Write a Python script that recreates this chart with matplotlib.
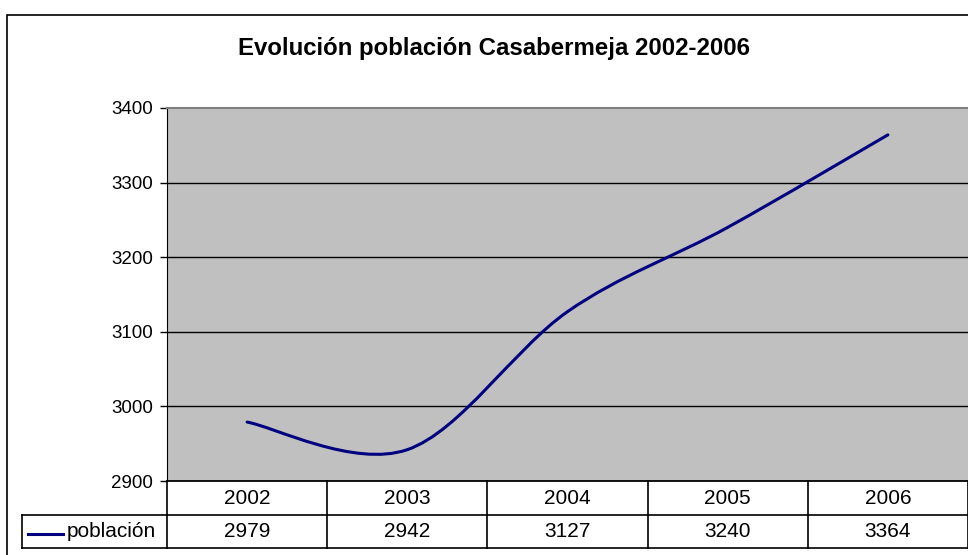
import numpy as np
import matplotlib
matplotlib.use("Agg")
import matplotlib.pyplot as plt
from matplotlib.path import Path
from matplotlib.patches import PathPatch, Rectangle
from matplotlib.lines import Line2D
import matplotlib.transforms as mtransforms

# ---- data ----
years = ["2002", "2003", "2004", "2005", "2006"]
poblacion = [2979, 2942, 3127, 3240, 3364]
series_name = "población"
title = "Evolución población Casabermeja 2002-2006"
y_ticks = [2900, 3000, 3100, 3200, 3300, 3400]

plt.rcParams['font.family'] = ['Liberation Sans', 'DejaVu Sans']

W, H = 968, 555
fig = plt.figure(figsize=(W / 100, H / 100), dpi=100)
fig.patch.set_facecolor("white")

def fx(px):
    return px / W

def fy(py):
    return 1 - py / H

# plot area
x_left, x_right = 167, 968
y_top, y_bot = 108, 481
ax = fig.add_axes([fx(x_left), fy(y_bot), fx(x_right) - fx(x_left), fy(y_top) - fy(y_bot)])
ax.set_facecolor("#c0c0c0")
n = len(years)
ax.set_xlim(-0.5, n - 0.5)
ax.set_ylim(y_ticks[0], y_ticks[-1])
ax.set_yticks(y_ticks)
ax.set_yticklabels([str(t) for t in y_ticks], fontsize=13.5)
ax.set_xticks([])
ax.tick_params(axis="y", direction="out", length=5, width=1, color="black", pad=5)
for t in y_ticks[1:-1]:
    ax.axhline(t, color="black", lw=1, zorder=1)
ax.spines["left"].set_color("black")
ax.spines["bottom"].set_color("black")
ax.spines["bottom"].set_linewidth(1.3)
ax.spines["top"].set_color("#808080")
ax.spines["top"].set_linewidth(1.5)
ax.spines["right"].set_visible(False)

# smoothed line (Bezier, Excel-like)
xs = np.arange(n, dtype=float)
ys = np.asarray(poblacion, dtype=float)
pts = np.column_stack([xs, ys])
verts = [tuple(pts[0])]
codes = [Path.MOVETO]
for i in range(n - 1):
    p_prev = pts[i - 1] if i > 0 else pts[i]
    p_next2 = pts[i + 2] if i + 2 < n else pts[i + 1]
    c1 = pts[i] + (pts[i + 1] - p_prev) / 6.0
    c2 = pts[i + 1] - (p_next2 - pts[i]) / 6.0
    verts += [tuple(c1), tuple(c2), tuple(pts[i + 1])]
    codes += [Path.CURVE4] * 3
patch = PathPatch(Path(verts, codes), facecolor="none", edgecolor="#000080", lw=2.2, zorder=3,
                  capstyle="round", joinstyle="round")
ax.add_patch(patch)

# title
fig.text(fx(494), fy(48), title, ha="center", va="center", fontsize=17.3, fontweight="bold")

# chart border
fig.patches.append(Rectangle((fx(7), fy(H + 10)), fx(W + 10) - fx(7), fy(15) - fy(H + 10),
                             transform=fig.transFigure, fill=False, edgecolor="black", lw=1.2))

# data table
bt = mtransforms.blended_transform_factory(ax.transData, fig.transFigure)
row1_bot, row2_bot = 515, 548
col_edges = [i - 0.5 for i in range(n + 1)]
fig.add_artist(Line2D([-0.5, n - 0.5], [fy(row1_bot)] * 2, transform=bt, color="black", lw=1.2))
fig.add_artist(Line2D([fx(22), fx(x_left)], [fy(row1_bot)] * 2, transform=fig.transFigure, color="black", lw=1.2))
fig.add_artist(Line2D([fx(22), fx(W)], [fy(row2_bot)] * 2, transform=fig.transFigure, color="black", lw=1.2))
fig.add_artist(Line2D([fx(22), fx(22)], [fy(row1_bot), fy(row2_bot)], transform=fig.transFigure, color="black", lw=1.2))
for e in col_edges:
    fig.add_artist(Line2D([e, e], [fy(y_bot), fy(row2_bot)], transform=bt, color="black", lw=1.2))
for i, (yr, v) in enumerate(zip(years, poblacion)):
    fig.text(i, fy((y_bot + row1_bot) / 2), yr, transform=bt, ha="center", va="center", fontsize=15)
    fig.text(i, fy((row1_bot + row2_bot) / 2), str(v), transform=bt, ha="center", va="center", fontsize=15)
# legend key
fig.add_artist(Line2D([fx(28), fx(63)], [fy(534)] * 2, transform=fig.transFigure, color="#000080", lw=2.2))
fig.text(fx(67), fy(531.5), series_name, ha="left", va="center", fontsize=15)

fig.savefig("out.png", dpi=100)
